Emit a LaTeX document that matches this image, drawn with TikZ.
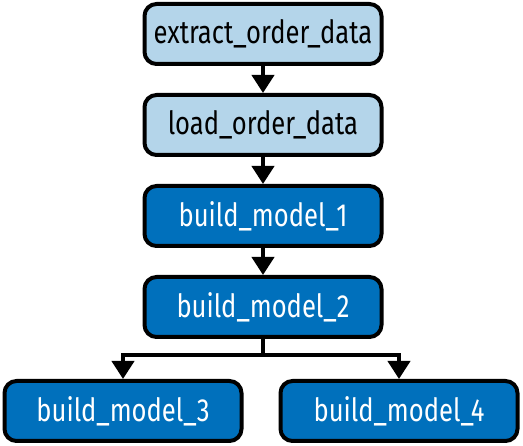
\documentclass[tikz,border=0pt]{standalone}
\usepackage{fontspec}
\setmainfont[FakeStretch=0.8]{Fira Sans}
\usepackage{xcolor}
\usetikzlibrary{calc,positioning,arrows.meta}

\definecolor{taskpale}{RGB}{180,213,234}
\definecolor{taskdark}{RGB}{0,112,188}

\begin{document}
\begin{tikzpicture}[x=1pt,y=1pt,
   every node/.style={draw,line width=4pt,rounded corners=12pt,
      minimum width=237pt,minimum height=60pt,font=\fontsize{32}{36}\selectfont},
   paletask/.style={fill=taskpale,text=black},
   darktask/.style={fill=taskdark,text=white},
   dep/.style={line width=4pt,-{Triangle[width=22pt,length=18pt]}}]
\useasboundingbox (0,0) rectangle (523,-446);
\node[paletask] (extract) at (263,-34) {extract\_order\_data};
\node[paletask,below=27pt of extract] (load) {load\_order\_data};
\node[darktask,below=27pt of load] (model1) {build\_model\_1};
\node[darktask,below=27pt of model1] (model2) {build\_model\_2};
\node[darktask] (model3) at (123,-411) {build\_model\_3};
\node[darktask] (model4) at (399,-411) {build\_model\_4};
% chain
\draw[dep] (extract) -- (load);
\draw[dep] (load) -- (model1);
\draw[dep] (model1) -- (model2);
% branch
\coordinate (fork) at ($(model2.south)+(0,-16)$);
\draw[line width=4pt] (model2.south) -- (fork);
\draw[dep] (fork) -| (model3.north);
\draw[dep] (fork) -| (model4.north);
\end{tikzpicture}
\end{document}
